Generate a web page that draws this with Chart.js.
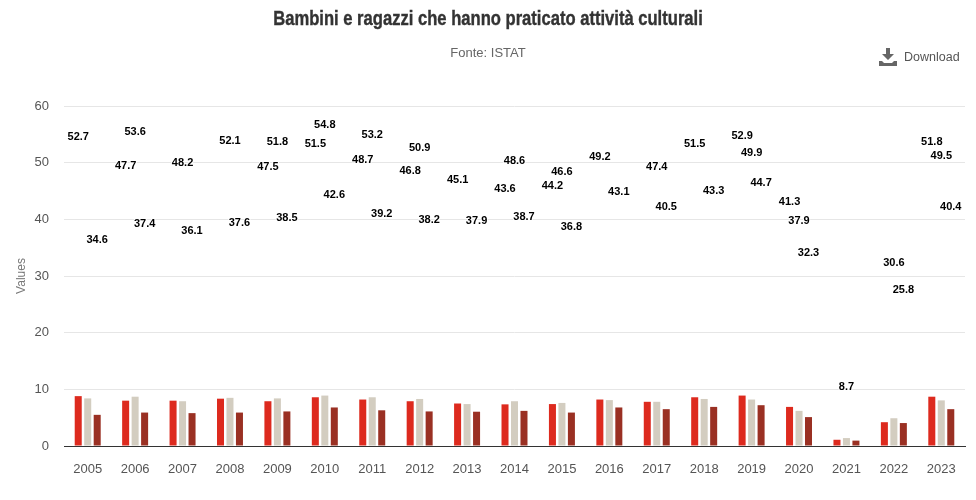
<!DOCTYPE html>
<html lang="it">
<head>
<meta charset="utf-8">
<title>Bambini e ragazzi che hanno praticato attività culturali</title>
<script src="https://cdn.jsdelivr.net/npm/chart.js@4"></script>
<style>
  html, body { margin: 0; padding: 0; background: #fff; }
  #wrap { position: relative; width: 976px; height: 500px; overflow: hidden; }
  #out { display: block; }
  /* the original title face is not installed, so squeeze a bold sans to the same width */
  #title { position: absolute; left: 0; top: 5px; width: 976px; margin: 0; text-align: center; white-space: nowrap;
    font: bold 21px/26px "Liberation Sans", sans-serif; color: #333; -webkit-text-stroke: 0.4px #333;
    transform: scaleX(0.79); transform-origin: 488px 0; }
  #download { position: absolute; left: 879px; top: 47px; height: 20px; display: flex; align-items: center;
    font: 12.5px "Liberation Sans", sans-serif; color: #555; }
  #download svg { margin-right: 7px; }
</style>
</head>
<body>
<div id="wrap">
  <canvas id="out" width="976" height="500"></canvas>
  <h1 id="title">Bambini e ragazzi che hanno praticato attività culturali</h1>
  <div id="download">
    <svg width="18" height="20" viewBox="0 0 18 20"><path fill="#666" d="M7 1h4v6h4l-6 6-6-6h4z"/><path fill="#666" d="M0 14h3l2 2h8l2-2h3v5H0z"/></svg>
    <span>Download</span>
  </div>
</div>
<script>
const years = ['2005', '2006', '2007', '2008', '2009', '2010', '2011', '2012', '2013', '2014',
  '2015', '2016', '2017', '2018', '2019', '2020', '2021', '2022', '2023'];

// bar heights
const redBars = [8.8, 8.0, 8.0, 8.35, 7.9, 8.6, 8.2, 7.9, 7.5, 7.35, 7.4, 8.2, 7.8, 8.6, 8.9, 6.9, 1.1, 4.2, 8.7];
const beigeBars = [8.4, 8.7, 7.9, 8.5, 8.4, 8.9, 8.6, 8.3, 7.4, 7.9, 7.6, 8.1, 7.8, 8.3, 8.2, 6.2, 1.4, 4.9, 8.05];
const brownBars = [5.5, 5.9, 5.8, 5.9, 6.1, 6.8, 6.3, 6.1, 6.05, 6.2, 5.9, 6.8, 6.5, 6.9, 7.2, 5.1, 0.95, 4.05, 6.5];

// printed labels, they do not follow the bars; null where the picture shows none
const redLabels = [52.7, 47.7, null, null, 47.5, 51.5, 48.7, 46.8, 45.1, 43.6, 44.2, 49.2, null, 51.5, 52.9, 41.3, null, null, 51.8];
const beigeLabels = [null, 53.6, 48.2, 52.1, 51.8, 54.8, 53.2, 50.9, null, 48.6, 46.6, null, 47.4, null, 49.9, 37.9, 8.7, 30.6, 49.5];
const brownLabels = [34.6, 37.4, 36.1, 37.6, 38.5, 42.6, 39.2, 38.2, 37.9, 38.7, 36.8, 43.1, 40.5, 43.3, 44.7, 32.3, null, 25.8, 40.4];

const yTicks = [0, 10, 20, 30, 40, 50, 60];

const labelSets = [redLabels, beigeLabels, brownLabels];

const floatingLabels = {
  id: 'floatingLabels',
  afterDatasetsDraw(chart) {
    const ctx = chart.ctx;
    ctx.save();
    ctx.font = 'bold 11px "Liberation Sans", sans-serif';
    ctx.textAlign = 'center';
    ctx.textBaseline = 'middle';
    ctx.lineJoin = 'round';
    labelSets.forEach((set, i) => {
      const bars = chart.getDatasetMeta(i).data;
      set.forEach((value, j) => {
        if (value === null) return;
        const y = chart.scales.y.getPixelForValue(value) - 10;
        ctx.lineWidth = 2;
        ctx.strokeStyle = '#fff';
        ctx.strokeText(value.toFixed(1), bars[j].x, y);
        ctx.fillStyle = '#000';
        ctx.fillText(value.toFixed(1), bars[j].x, y);
      });
    });
    ctx.restore();
  }
};

Chart.defaults.font.family = '"Liberation Sans", sans-serif';

const chartConfig = {
  type: 'bar',
  data: {
    labels: years,
    datasets: [
      { label: 'Rosso', data: redBars, backgroundColor: '#dd2a1e' },
      { label: 'Beige', data: beigeBars, backgroundColor: '#d3cdc0' },
      { label: 'Marrone', data: brownBars, backgroundColor: '#9a3023' }
    ]
  },
  options: {
    responsive: false,
    devicePixelRatio: 1,
    animation: false,
    datasets: { bar: { categoryPercentage: 0.6, barPercentage: 0.74 } },
    layout: { padding: { left: 11, right: 11, top: 0, bottom: 0 } },
    plugins: {
      legend: { display: false },
      subtitle: {
        display: true,
        text: 'Fonte: ISTAT',
        color: '#666',
        font: { size: 13, weight: 'normal' },
        padding: { top: 46, bottom: 44.4 }
      }
    },
    scales: {
      x: {
        grid: { display: false },
        border: { color: '#333', width: 1 },
        ticks: { color: '#555', font: { size: 13 }, padding: 8, maxRotation: 0, autoSkip: false },
        afterFit(scale) { scale.height = 54; }
      },
      y: {
        min: 0,
        max: 60,
        afterBuildTicks(scale) { scale.ticks = yTicks.map((v) => ({ value: v })); },
        grid: { color: '#e6e6e6', drawTicks: false },
        border: { display: false },
        ticks: { color: '#555', font: { size: 13 }, padding: 15 },
        title: { display: true, text: 'Values', color: '#777', font: { size: 12 }, padding: { top: 3, bottom: 0 } },
        afterFit(scale) { scale.width = 53; }
      }
    }
  },
  plugins: [floatingLabels]
};

window.chart = new Chart(document.getElementById('out').getContext('2d'), chartConfig);
</script>
</body>
</html>
